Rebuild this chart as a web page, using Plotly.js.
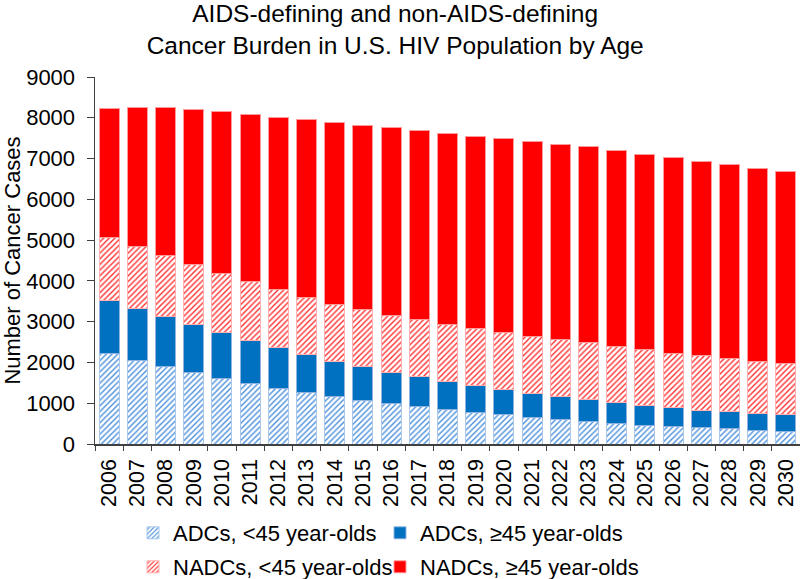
<!DOCTYPE html>
<html>
<head>
<meta charset="utf-8">
<script src="https://cdn.plot.ly/plotly-3.0.1.min.js"></script>
<style>html,body{margin:0;padding:0;background:#fff;}#chart{width:800px;height:579px;}</style>
</head>
<body>
<div id="chart"></div>
<script>
var years = ['2006','2007','2008','2009','2010','2011','2012','2013','2014','2015','2016','2017','2018','2019','2020','2021','2022','2023','2024','2025','2026','2027','2028','2029','2030'];
var adcUnder45 = [2209,2046,1890,1751,1612,1489,1367,1268,1162,1072,982,917,843,769,712,655,606,548,507,466,426,393,368,336,311];
var adcOver45 = [1310,1268,1228,1170,1121,1048,998,925,867,827,777,728,695,663,614,589,548,532,500,475,458,434,418,409,401];
var nadcUnder45 = [1546,1530,1506,1482,1457,1440,1424,1408,1400,1391,1400,1399,1383,1391,1399,1391,1399,1400,1391,1375,1342,1333,1301,1284,1268];
var nadcOver45 = [3159,3413,3616,3805,3952,4108,4222,4345,4451,4517,4591,4640,4698,4722,4755,4787,4804,4820,4811,4795,4803,4779,4762,4738,4698];

var FONT = 'Liberation Sans, Arial, sans-serif';
var traces = [
  {type:'bar', name:'ADCs, <45 year-olds', x:years, y:adcUnder45, legend:'legend',
   marker:{color:'#ffffff', line:{color:'#a9c8ec', width:1},
           pattern:{shape:'/', fgcolor:'#4a8fdb', bgcolor:'#ffffff', size:4, solidity:0.35}}},
  {type:'bar', name:'ADCs, \u226545 year-olds', x:years, y:adcOver45, legend:'legend2',
   marker:{color:'#0070c0', line:{color:'#8fb3e0', width:1}}},
  {type:'bar', name:'NADCs, <45 year-olds', x:years, y:nadcUnder45, legend:'legend3',
   marker:{color:'#ffffff', line:{color:'#ffb0b0', width:1},
           pattern:{shape:'/', fgcolor:'#ff3030', bgcolor:'#ffffff', size:4, solidity:0.35}}},
  {type:'bar', name:'NADCs, \u226545 year-olds', x:years, y:nadcOver45, legend:'legend4',
   marker:{color:'#ff0000', line:{color:'#ff9a9a', width:1}}}
];

var legendCommon = {orientation:'h', xref:'container', yref:'container', xanchor:'left', yanchor:'middle',
  font:{family:FONT, size:22, color:'#000'}, traceorder:'normal',
  bgcolor:'rgba(0,0,0,0)', itemwidth:30};

var layout = {
  width:800, height:579,
  margin:{l:95, r:0, t:77, b:135},
  paper_bgcolor:'#fff', plot_bgcolor:'#fff',
  barmode:'stack', bargap:0.29,
  font:{family:FONT, color:'#000'},
  title:{text:'AIDS-defining and non-AIDS-defining<br>Cancer Burden in U.S. HIV Population by Age',
         font:{family:FONT, size:24.5, color:'#000'}, xref:'container', x:0.494, xanchor:'center',
         yref:'container', y:1-22/579, yanchor:'top'},
  xaxis:{type:'category', tickangle:-90, tickfont:{family:FONT, size:21.5, color:'#000'},
         showline:true, linecolor:'#404040', linewidth:1.5, ticks:'outside', ticklen:5, tickcolor:'#404040',
         ticklabelstandoff:5,
         tickson:'boundaries', showgrid:false, zeroline:false},
  yaxis:{range:[0,9000], dtick:1000, tickfont:{family:FONT, size:22, color:'#000'},
         showline:true, linecolor:'#404040', linewidth:1.5, ticks:'outside', ticklen:7, tickcolor:'#404040',
         ticklabelstandoff:7,
         showgrid:false, zeroline:false,
         title:{text:'Number of Cancer Cases', font:{family:FONT, size:22, color:'#000'}, standoff:4}},
  legend:Object.assign({}, legendCommon, {x:133/800, y:1-533/579}),
  legend2:Object.assign({}, legendCommon, {x:380/800, y:1-533/579}),
  legend3:Object.assign({}, legendCommon, {x:133/800, y:1-567/579}),
  legend4:Object.assign({}, legendCommon, {x:380/800, y:1-567/579}),
  showlegend:true
};

Plotly.newPlot('chart', traces, layout, {displayModeBar:false, staticPlot:true});
</script>
</body>
</html>
